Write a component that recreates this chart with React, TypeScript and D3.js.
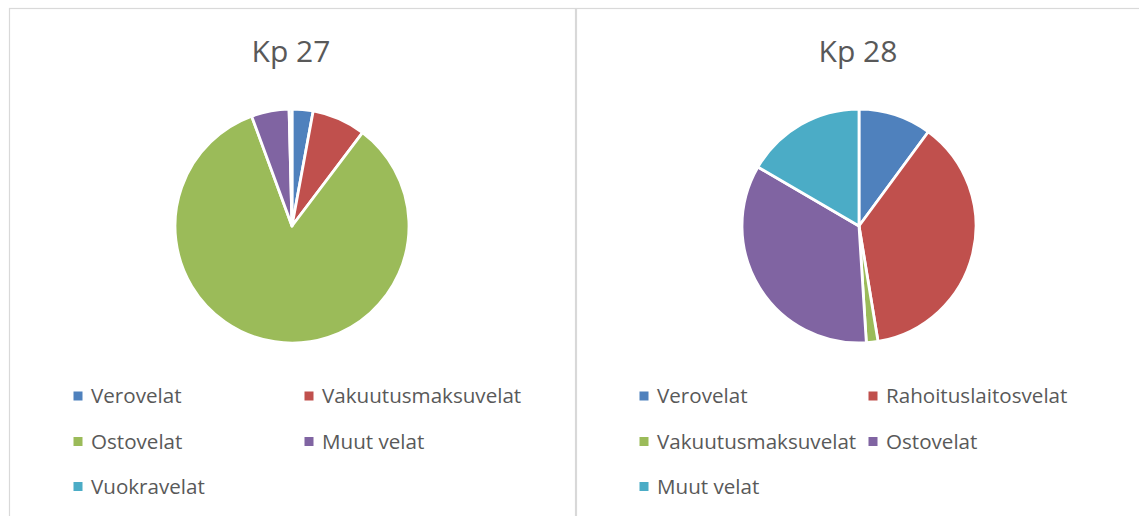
import React, { useEffect, useRef } from 'react';
import * as d3 from 'd3';

const colors = ['#4f81bd', '#c0504d', '#9bbb59', '#8064a2', '#4bacc6'];

const kp27Labels = ['Verovelat', 'Vakuutusmaksuvelat', 'Ostovelat', 'Muut velat', 'Vuokravelat'];
const kp27Values = [2.9, 7.4, 84.1, 5.2, 0.4];

const kp28Labels = ['Verovelat', 'Rahoituslaitosvelat', 'Vakuutusmaksuvelat', 'Ostovelat', 'Muut velat'];
const kp28Values = [10.1, 37.3, 1.6, 34.4, 16.6];

const charts = [
  { title: 'Kp 27', labels: kp27Labels, values: kp27Values, x0: 9, x1: 575, cx: 292, legendX: [73.5, 304.5] },
  { title: 'Kp 28', labels: kp28Labels, values: kp28Values, x0: 576, x1: 1150, cx: 859, legendX: [639.5, 868.5] },
];

export default function App() {
  const ref = useRef<SVGSVGElement>(null);

  useEffect(() => {
    const svg = d3.select(ref.current);
    svg.selectAll('*').remove();
    const font = '"Open Sans", "Noto Sans", sans-serif';
    const radius = 117;
    const cy = 226;
    const rowY = [396, 441.5, 486.5];

    charts.forEach((c) => {
      const g = svg.append('g');

      g.append('rect')
        .attr('x', c.x0 + 0.5)
        .attr('y', 8.5)
        .attr('width', c.x1 - c.x0)
        .attr('height', 600)
        .attr('fill', '#fff')
        .attr('stroke', '#d9d9d9')
        .attr('stroke-width', 1.2);

      g.append('text')
        .attr('x', c.cx - 1)
        .attr('y', 62)
        .attr('text-anchor', 'middle')
        .attr('font-family', font)
        .attr('font-size', 30)
        .attr('fill', '#595959')
        .text(c.title);

      const pie = d3.pie<number>().sort(null).value((d) => d);
      const arc = d3.arc<d3.PieArcDatum<number>>().innerRadius(0).outerRadius(radius);

      g.append('g')
        .attr('transform', `translate(${c.cx},${cy})`)
        .selectAll('path')
        .data(pie(c.values))
        .join('path')
        .attr('d', arc)
        .attr('fill', (_, i) => colors[i])
        .attr('stroke', '#fff')
        .attr('stroke-width', 2.8)
        .attr('stroke-linejoin', 'round');

      const legend = g.append('g');
      c.labels.forEach((label, i) => {
        const col = i % 2;
        const row = Math.floor(i / 2);
        const lx = c.legendX[col];
        const ly = rowY[row];
        legend
          .append('rect')
          .attr('x', lx)
          .attr('y', ly - 4.5)
          .attr('width', 9)
          .attr('height', 9)
          .attr('fill', colors[i]);
        legend
          .append('text')
          .attr('x', lx + 17.5)
          .attr('y', ly + 7.2)
          .attr('font-family', font)
          .attr('font-size', 20.6)
          .attr('fill', '#595959')
          .text(label);
      });
    });
  }, []);

  return (
    <svg
      ref={ref}
      width={1139}
      height={516}
      style={{ position: 'absolute', left: 0, top: 0, background: '#fff' }}
    />
  );
}
